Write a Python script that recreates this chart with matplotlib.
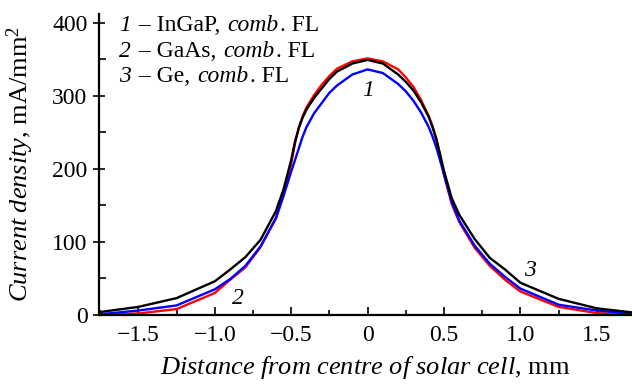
import numpy as np
import matplotlib
matplotlib.use("Agg")
import matplotlib.pyplot as plt
from matplotlib.ticker import MultipleLocator, FixedLocator
from matplotlib.offsetbox import TextArea, HPacker, VPacker, AnchoredOffsetbox

plt.rcParams['font.family'] = 'serif'
plt.rcParams['font.serif'] = ['Liberation Serif', 'DejaVu Serif']
plt.rcParams['mathtext.fontset'] = 'custom'
plt.rcParams['mathtext.rm'] = 'Liberation Serif'
plt.rcParams['mathtext.it'] = 'Liberation Serif:italic'

# distance from centre, mm
x = [-1.75, -1.5, -1.25, -1.0, -0.9, -0.8, -0.7, -0.6, -0.55, -0.5, -0.475, -0.45, -0.425, -0.4,
     -0.35, -0.3, -0.25, -0.2, -0.1, 0.0, 0.1, 0.2, 0.25, 0.3, 0.35, 0.4, 0.425, 0.45, 0.475,
     0.5, 0.55, 0.6, 0.7, 0.8, 0.9, 1.0, 1.25, 1.5, 1.75]

# current density, mA/mm^2
ingap = [1, 6, 13, 35, 49, 67, 94, 132, 163, 196, 212, 228, 244, 257,
         276, 290, 304, 314, 329, 336, 331, 316, 306, 293, 277, 257, 244, 229, 211,
         192, 155, 129, 95, 70, 52, 36, 14, 6, 1.5]
gaas = [0.5, 2, 8, 30, 48, 65, 93, 133, 165, 207, 235, 256, 272, 284,
        301, 315, 327, 337, 347, 351, 347, 336, 325, 312, 294, 272, 258, 241, 218,
        192, 152, 127, 92, 67, 48, 32, 11, 2.5, 0.5]
ge = [4, 11, 23, 46, 62, 79, 103, 142, 172, 212, 237, 256, 270, 281,
      297, 310, 323, 333, 344, 349, 344, 329, 319, 307, 291, 271, 257, 240, 219,
      197, 160, 137, 104, 78, 62, 44, 22, 9, 3]

xticks = [-1.5, -1.0, -0.5, 0, 0.5, 1.0, 1.5]
xticklabels = ['\u22121.5', '\u22121.0', '\u22120.5', '0', '0.5', '1.0', '1.5']
yticks = [0, 100, 200, 300, 400]

nums = ['1', '2', '3']
names = ['InGaP', 'GaAs', 'Ge']

fs = 17

fig = plt.figure(figsize=(6.32, 3.85), dpi=100)
ax = fig.add_axes([0.157, 0.182, 0.843, 0.782])

ax.plot(x, gaas, color='red', lw=1.7)
ax.plot(x, ingap, color='blue', lw=1.7)
ax.plot(x, ge, color='black', lw=1.7)

ax.set_xlim(-1.756, 1.73)
ax.set_ylim(0, 412)

for s in ['top', 'right']:
    ax.spines[s].set_visible(False)
for s in ['left', 'bottom']:
    ax.spines[s].set_linewidth(1.6)

ax.xaxis.set_major_locator(FixedLocator(xticks))
ax.set_xticklabels(xticklabels)
ax.xaxis.set_minor_locator(MultipleLocator(0.25))
ax.yaxis.set_major_locator(FixedLocator(yticks))
ax.yaxis.set_minor_locator(MultipleLocator(50))

ax.tick_params(axis='x', which='major', direction='in', length=6, width=1.2, labelsize=fs, pad=7)
ax.tick_params(axis='x', which='minor', direction='in', length=3.5, width=1.2)
ax.tick_params(axis='y', which='major', direction='inout', length=9, width=1.2, labelsize=fs, pad=4)
ax.tick_params(axis='y', which='minor', direction='in', length=5, width=1.2)

ax.set_xlabel(r'$\mathit{Distance\ from\ centre\ of\ solar\ cell}$, mm', fontsize=19)
ax.set_ylabel(r'$\mathit{Current\ density}$, mA/mm$^2$', fontsize=19)
ax.xaxis.set_label_coords(0.5, -0.13)
ax.yaxis.set_label_coords(-0.118, 0.5)

# legend as text lines (italic number, italic "comb")
rows = []
for n, nm in zip(nums, names):
    rows.append(HPacker(children=[
        TextArea(n, textprops=dict(fontsize=fs, fontstyle='italic')),
        TextArea(' \u2013 ' + nm + ', ', textprops=dict(fontsize=fs)),
        TextArea('comb', textprops=dict(fontsize=fs, fontstyle='italic')),
        TextArea('. FL', textprops=dict(fontsize=fs)),
    ], pad=0, sep=1, align='baseline'))
box = VPacker(children=rows, pad=0, sep=3, align='left')
anc = AnchoredOffsetbox(loc='upper left', child=box, frameon=False, pad=0, borderpad=0,
                        bbox_to_anchor=(0.038, 0.995), bbox_transform=ax.transAxes)
ax.add_artist(anc)

# curve numbers
ax.text(0.0, 307, nums[0], fontsize=fs, fontstyle='italic', ha='center', va='center')
ax.text(-0.85, 23, nums[1], fontsize=fs, fontstyle='italic', ha='center', va='center')
ax.text(1.06, 61, nums[2], fontsize=fs, fontstyle='italic', ha='center', va='center')

fig.savefig('out.png', dpi=100)
